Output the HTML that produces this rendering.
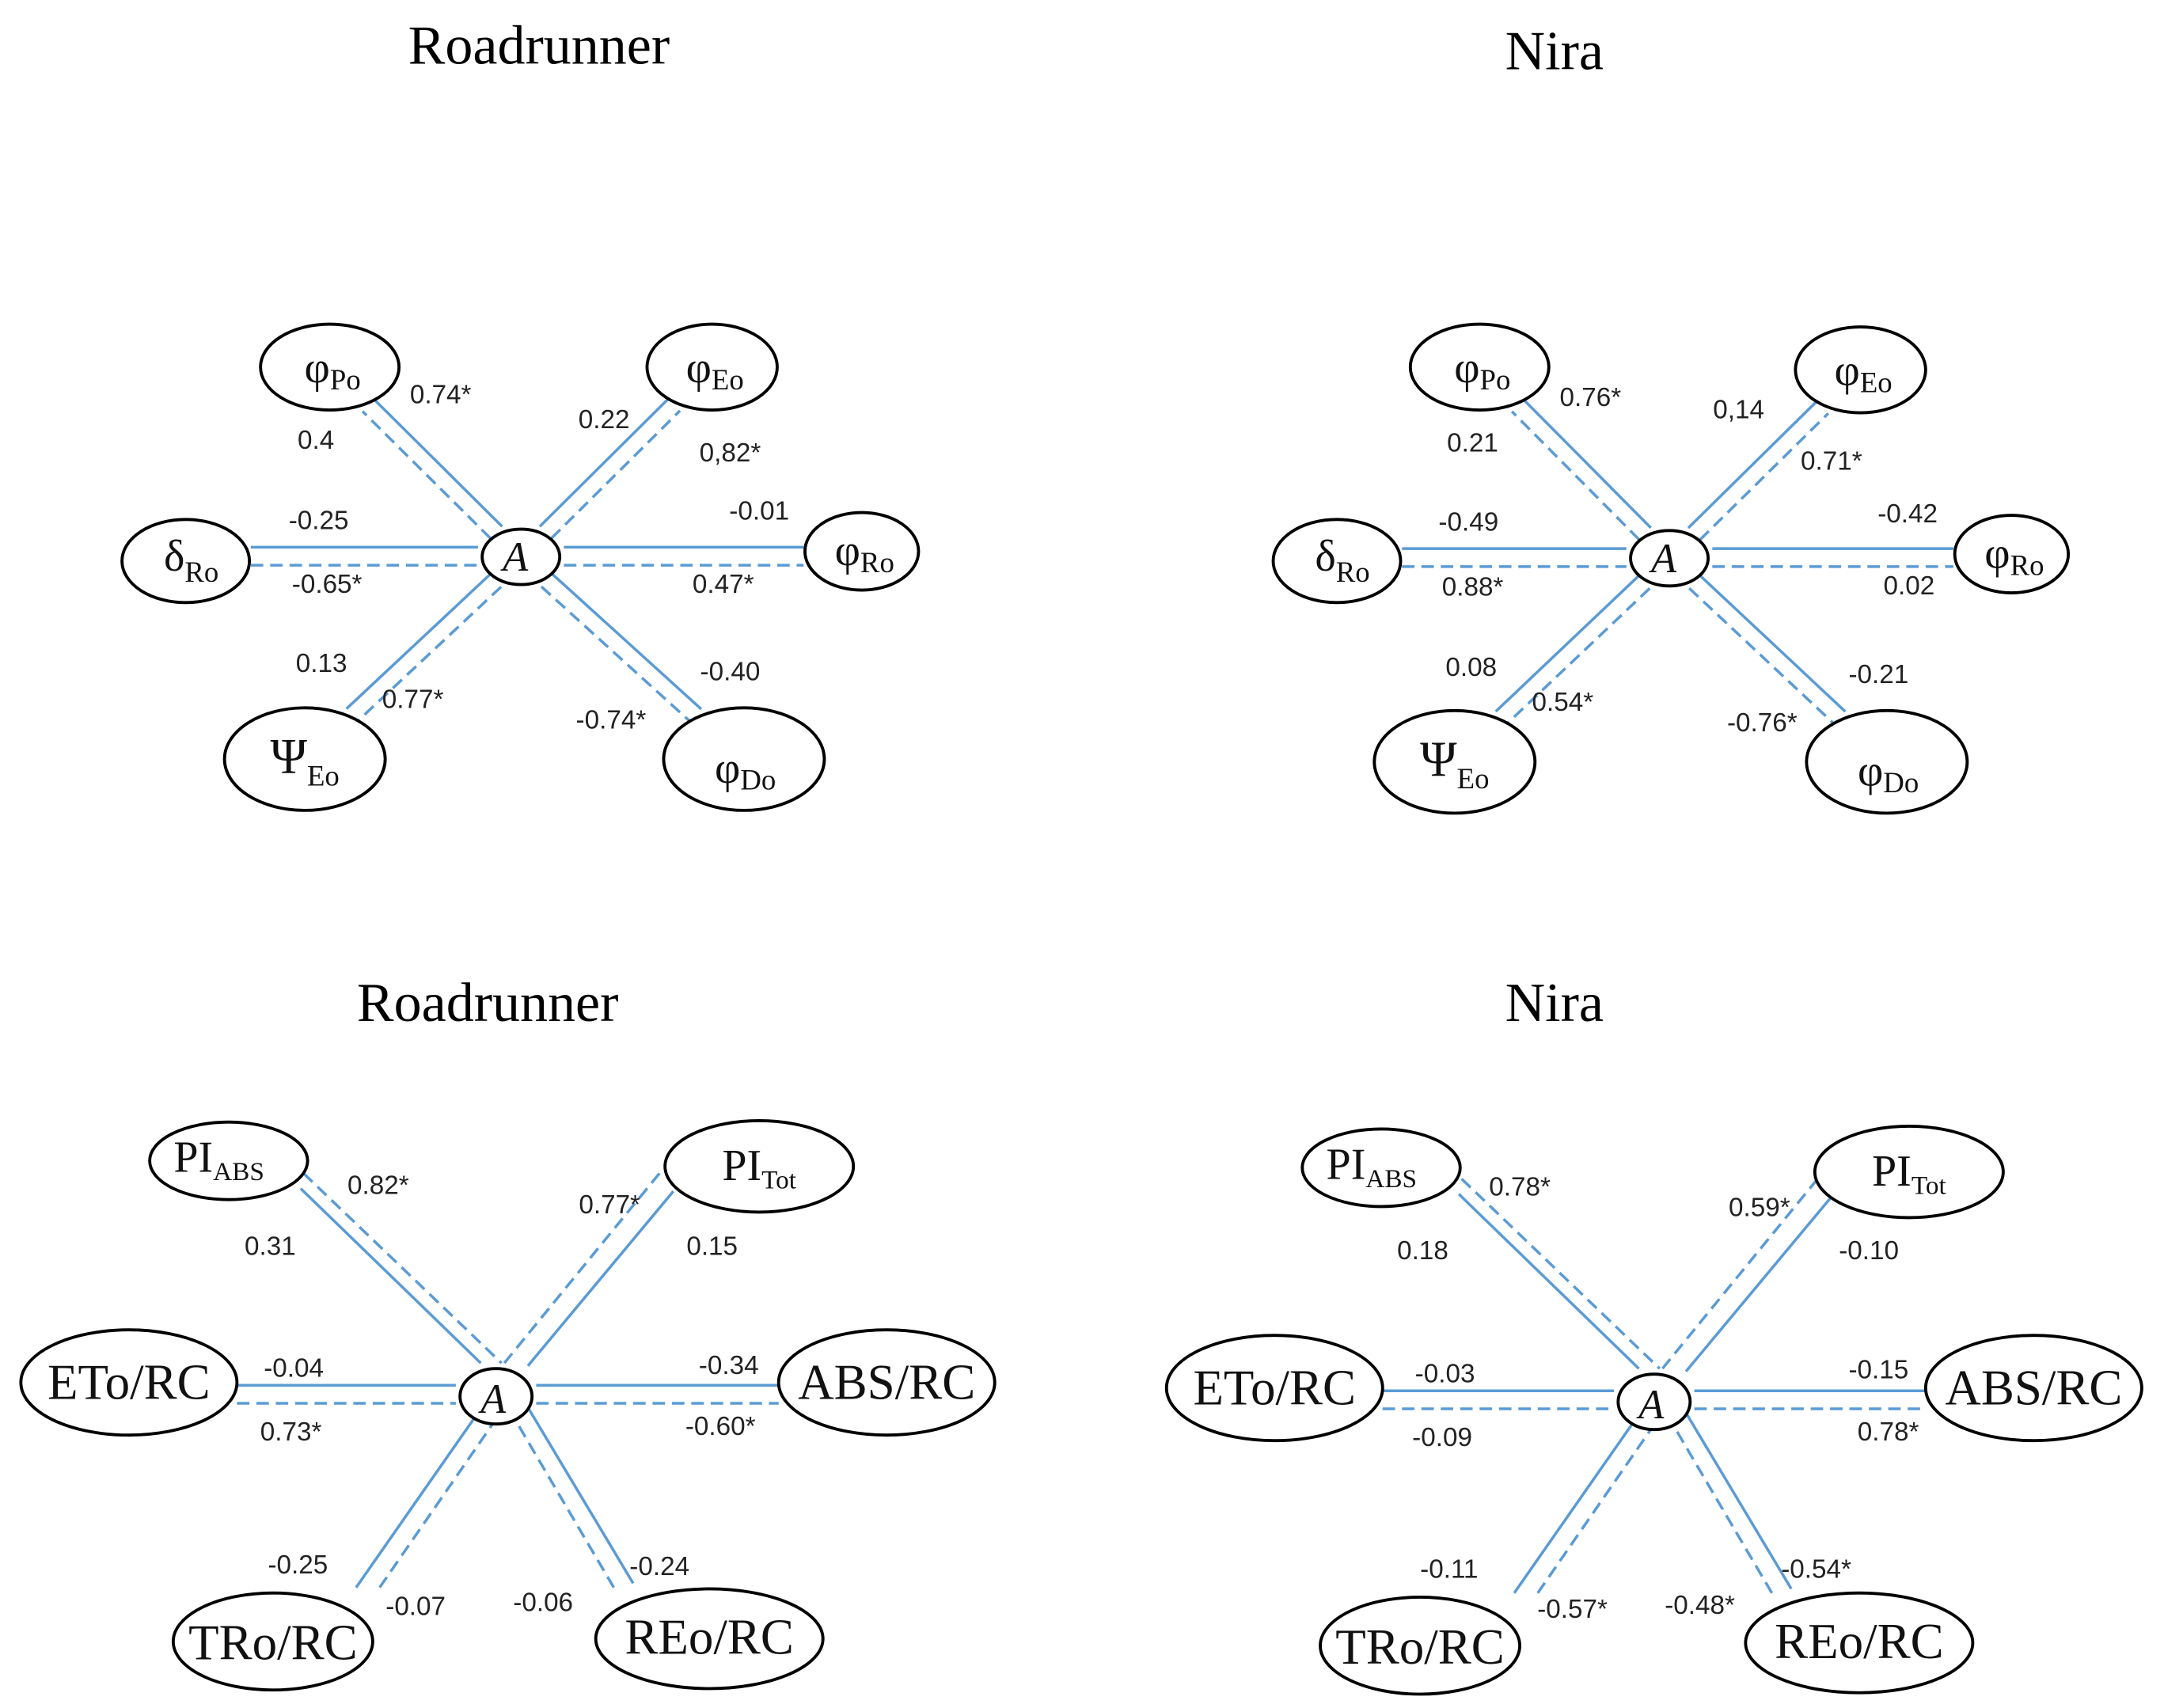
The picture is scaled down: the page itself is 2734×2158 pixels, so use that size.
<!DOCTYPE html>
<html><head><meta charset="utf-8"><style>
html,body{margin:0;padding:0;background:#fff;}
svg{display:block;}
.t{font-family:"Liberation Serif",serif;font-size:40px;fill:#000;}
.n{font-family:"Liberation Serif",serif;fill:#111;}
.l{font-family:"Liberation Sans",sans-serif;font-size:19px;fill:#222;}
</style></head><body>
<svg id="s" width="2734" height="2158" viewBox="0 0 1562 1233" xmlns="http://www.w3.org/2000/svg">
<g id="lines"></g>
<g fill="#fff" stroke="#000" stroke-width="2.2">
<ellipse cx="376" cy="402" rx="28" ry="20"/>
<ellipse cx="238" cy="265" rx="50" ry="31"/>
<ellipse cx="514" cy="265" rx="47" ry="31"/>
<ellipse cx="134" cy="405" rx="46" ry="30"/>
<ellipse cx="622" cy="398" rx="41" ry="28"/>
<ellipse cx="220" cy="548" rx="58" ry="37"/>
<ellipse cx="537" cy="548" rx="58" ry="37"/>
<ellipse cx="1205" cy="403" rx="28" ry="20"/>
<ellipse cx="1068" cy="265" rx="50" ry="31"/>
<ellipse cx="1343" cy="267" rx="47" ry="31"/>
<ellipse cx="965" cy="405" rx="46" ry="30"/>
<ellipse cx="1452" cy="400" rx="41" ry="28"/>
<ellipse cx="1050" cy="550" rx="58" ry="37"/>
<ellipse cx="1362" cy="550" rx="58" ry="37"/>
<ellipse cx="358" cy="1008" rx="26" ry="20"/>
<ellipse cx="165" cy="838" rx="57" ry="28"/>
<ellipse cx="548" cy="842" rx="68" ry="33"/>
<ellipse cx="93" cy="998" rx="78" ry="38"/>
<ellipse cx="640" cy="998" rx="78" ry="38"/>
<ellipse cx="197" cy="1185" rx="72" ry="35"/>
<ellipse cx="512" cy="1183" rx="82" ry="36"/>
<ellipse cx="1194" cy="1012" rx="26" ry="20"/>
<ellipse cx="997" cy="843" rx="57" ry="28"/>
<ellipse cx="1378" cy="846" rx="68" ry="33"/>
<ellipse cx="920" cy="1002" rx="78" ry="38"/>
<ellipse cx="1468" cy="1002" rx="78" ry="38"/>
<ellipse cx="1025" cy="1188" rx="72" ry="35"/>
<ellipse cx="1342" cy="1186" rx="82" ry="36"/>
</g>
<text class="t" x="389" y="46" text-anchor="middle">Roadrunner</text>
<text class="t" x="1122" y="50" text-anchor="middle">Nira</text>
<text class="t" x="352" y="737" text-anchor="middle">Roadrunner</text>
<text class="t" x="1122" y="737" text-anchor="middle">Nira</text>
<g class="n" text-anchor="middle">
<text x="372" y="412" font-size="30" font-style="italic">A</text>
<text x="240" y="276" font-size="32">φ<tspan font-size="21" dy="5">Po</tspan></text>
<text x="516" y="276" font-size="32">φ<tspan font-size="21" dy="5">Eo</tspan></text>
<text x="138" y="412" font-size="32">δ<tspan font-size="21" dy="8">Ro</tspan></text>
<text x="624" y="408" font-size="32">φ<tspan font-size="21" dy="5">Ro</tspan></text>
<text x="220" y="558" font-size="36">Ψ<tspan font-size="21" dy="9">Eo</tspan></text>
<text x="538" y="565" font-size="32">φ<tspan font-size="21" dy="5">Do</tspan></text>

<text x="1201" y="413" font-size="30" font-style="italic">A</text>
<text x="1070" y="276" font-size="32">φ<tspan font-size="21" dy="5">Po</tspan></text>
<text x="1345" y="278" font-size="32">φ<tspan font-size="21" dy="5">Eo</tspan></text>
<text x="969" y="412" font-size="32">δ<tspan font-size="21" dy="8">Ro</tspan></text>
<text x="1454" y="410" font-size="32">φ<tspan font-size="21" dy="5">Ro</tspan></text>
<text x="1050" y="560" font-size="36">Ψ<tspan font-size="21" dy="9">Eo</tspan></text>
<text x="1363" y="567" font-size="32">φ<tspan font-size="21" dy="5">Do</tspan></text>

<text x="356" y="1020" font-size="30" font-style="italic">A</text>
<text x="158" y="846" font-size="32">PI<tspan font-size="19" dy="6">ABS</tspan></text>
<text x="548" y="852" font-size="32">PI<tspan font-size="19" dy="6">Tot</tspan></text>
<text x="93" y="1010" font-size="36">ETo/RC</text>
<text x="640" y="1010" font-size="36">ABS/RC</text>
<text x="197" y="1198" font-size="36">TRo/RC</text>
<text x="512" y="1194" font-size="36">REo/RC</text>

<text x="1192" y="1024" font-size="30" font-style="italic">A</text>
<text x="990" y="851" font-size="32">PI<tspan font-size="19" dy="6">ABS</tspan></text>
<text x="1378" y="856" font-size="32">PI<tspan font-size="19" dy="6">Tot</tspan></text>
<text x="920" y="1014" font-size="36">ETo/RC</text>
<text x="1468" y="1014" font-size="36">ABS/RC</text>
<text x="1025" y="1201" font-size="36">TRo/RC</text>
<text x="1342" y="1197" font-size="36">REo/RC</text>
</g>
<g class="l" text-anchor="middle">
<text x="318" y="291">0.74*</text><text x="228" y="324">0.4</text>
<text x="436" y="309">0.22</text><text x="527" y="333">0,82*</text>
<text x="230" y="382">-0.25</text><text x="548" y="375">-0.01</text>
<text x="236" y="428">-0.65*</text><text x="522" y="428">0.47*</text>
<text x="232" y="485">0.13</text><text x="298" y="511">0.77*</text>
<text x="527" y="491">-0.40</text><text x="441" y="526">-0.74*</text>

<text x="1148" y="293">0.76*</text><text x="1063" y="326">0.21</text>
<text x="1255" y="302">0,14</text><text x="1322" y="339">0.71*</text>
<text x="1060" y="383">-0.49</text><text x="1377" y="377">-0.42</text>
<text x="1063" y="430">0.88*</text><text x="1378" y="429">0.02</text>
<text x="1062" y="488">0.08</text><text x="1128" y="513">0.54*</text>
<text x="1356" y="493">-0.21</text><text x="1272" y="528">-0.76*</text>

<text x="273" y="862">0.82*</text><text x="195" y="906">0.31</text>
<text x="440" y="876">0.77*</text><text x="514" y="906">0.15</text>
<text x="212" y="994">-0.04</text><text x="526" y="992">-0.34</text>
<text x="210" y="1040">0.73*</text><text x="520" y="1036">-0.60*</text>
<text x="215" y="1136">-0.25</text><text x="300" y="1166">-0.07</text>
<text x="392" y="1163">-0.06</text><text x="476" y="1137">-0.24</text>

<text x="1097" y="863">0.78*</text><text x="1027" y="909">0.18</text>
<text x="1270" y="878">0.59*</text><text x="1349" y="909">-0.10</text>
<text x="1043" y="998">-0.03</text><text x="1356" y="995">-0.15</text>
<text x="1041" y="1044">-0.09</text><text x="1363" y="1040">0.78*</text>
<text x="1046" y="1139">-0.11</text><text x="1135" y="1168">-0.57*</text>
<text x="1227" y="1165">-0.48*</text><text x="1311" y="1139">-0.54*</text>
</g>
</svg>
<script>
(function(){
var g=document.getElementById('lines'),NS='http://www.w3.org/2000/svg';
function ln(x1,y1,x2,y2,dash){
 var l=document.createElementNS(NS,'line');
 l.setAttribute('x1',x1);l.setAttribute('y1',y1);l.setAttribute('x2',x2);l.setAttribute('y2',y2);
 l.setAttribute('stroke','#5b9bd5');l.setAttribute('stroke-width','2');
 if(dash)l.setAttribute('stroke-dasharray','9,5');
 g.appendChild(l);
}
function er(dx,dy,rx,ry){return 1/Math.sqrt((dx/rx)*(dx/rx)+(dy/ry)*(dy/ry));}
var T=[
 {a:[376,402,28,20],n:[[238,265,50,31],[514,265,47,31],[220,548,58,37],[537,548,58,37]],L:[134,46],R:[622,41]},
 {a:[1205,403,28,20],n:[[1068,265,50,31],[1343,267,47,31],[1050,550,58,37],[1362,550,58,37]],L:[965,46],R:[1452,41]}
];
T.forEach(function(d){
 var A=d.a;
 d.n.forEach(function(N){
  var dx=N[0]-A[0],dy=N[1]-A[1],L=Math.sqrt(dx*dx+dy*dy),ux=dx/L,uy=dy/L;
  var px=-uy,py=ux; if(py<0){px=-px;py=-py;}
  var ra=er(ux,uy,A[2],A[3])+2, rn=er(ux,uy,N[2],N[3])+2;
  [[-6,false],[6,true]].forEach(function(o){
   ln(A[0]+ux*ra+px*o[0],A[1]+uy*ra+py*o[0],N[0]-ux*rn+px*o[0],N[1]-uy*rn+py*o[0],o[1]);
  });
 });
 var ys=A[1]-7,yd=A[1]+6;
 ln(d.L[0]+d.L[1]+1,ys,A[0]-A[2]-3,ys,false);
 ln(d.L[0]+d.L[1]+1,yd,A[0]-A[2]-3,yd,true);
 ln(A[0]+A[2]+3,ys,d.R[0]-d.R[1]-1,ys,false);
 ln(A[0]+A[2]+3,yd,d.R[0]-d.R[1]-1,yd,true);
});
var B=[[-141,-150,-11,-24,0],[-139,-161,4,-24,1],
  [128,-148,23,-22,0],[118,-161,6,-24,1],
  [-101,138,-11,9,0],[-84,138,1,15,1],
  [99,135,23,8,0],[85,138,11,12,1]];
[[358,1008,-265,282],[1194,1012,-274,274]].forEach(function(c){
 var ax=c[0],ay=c[1];
 B.forEach(function(s){ln(ax+s[0],ay+s[1],ax+s[2],ay+s[3],s[4]);});
 var ys=ay-8,yd=ay+5;
 ln(ax+c[2]+78,ys,ax-29,ys,false);
 ln(ax+c[2]+78,yd,ax-29,yd,true);
 ln(ax+29,ys,ax+c[3]-78,ys,false);
 ln(ax+29,yd,ax+c[3]-78,yd,true);
});
})();
</script>
</body></html>
